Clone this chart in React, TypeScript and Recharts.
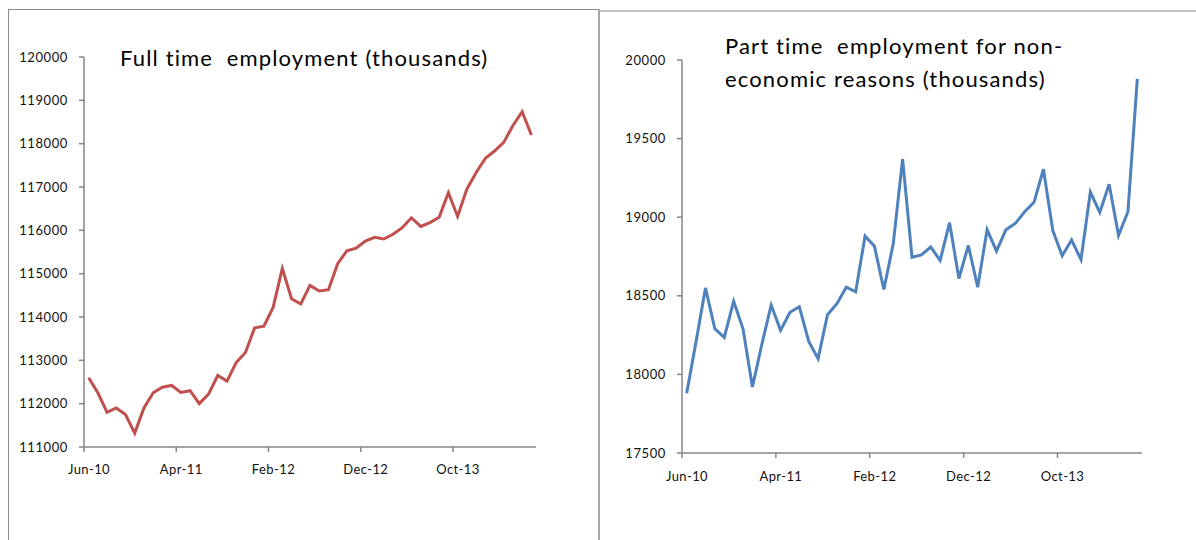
import { LineChart, Line, XAxis, YAxis } from 'recharts'

const months = [
  'Jun-10', 'Jul-10', 'Aug-10', 'Sep-10', 'Oct-10', 'Nov-10', 'Dec-10',
  'Jan-11', 'Feb-11', 'Mar-11', 'Apr-11', 'May-11', 'Jun-11', 'Jul-11', 'Aug-11', 'Sep-11', 'Oct-11', 'Nov-11', 'Dec-11',
  'Jan-12', 'Feb-12', 'Mar-12', 'Apr-12', 'May-12', 'Jun-12', 'Jul-12', 'Aug-12', 'Sep-12', 'Oct-12', 'Nov-12', 'Dec-12',
  'Jan-13', 'Feb-13', 'Mar-13', 'Apr-13', 'May-13', 'Jun-13', 'Jul-13', 'Aug-13', 'Sep-13', 'Oct-13', 'Nov-13', 'Dec-13',
  'Jan-14', 'Feb-14', 'Mar-14', 'Apr-14', 'May-14', 'Jun-14',
]

const tickMonths = ['Jun-10', 'Apr-11', 'Feb-12', 'Dec-12', 'Oct-13']

const fullTime = [
  112600, 112250, 111800, 111900, 111750, 111320, 111900, 112250, 112380, 112420,
  112260, 112300, 112000, 112220, 112650, 112520, 112950, 113180, 113750, 113790,
  114220, 115120, 114420, 114300, 114730, 114600, 114630, 115230, 115530, 115590,
  115750, 115840, 115800, 115910, 116060, 116290, 116090, 116180, 116300, 116870,
  116320, 116950, 117330, 117660, 117830, 118030, 118420, 118740, 118200,
]

const partTime = [
  17880, 18210, 18550, 18290, 18235, 18465, 18290, 17920, 18190, 18440,
  18280, 18395, 18430, 18210, 18100, 18380, 18450, 18555, 18525, 18880,
  18815, 18540, 18830, 19370, 18745, 18760, 18810, 18725, 18965, 18610,
  18820, 18555, 18920, 18785, 18920, 18960, 19035, 19095, 19305, 18915,
  18755, 18855, 18730, 19160, 19030, 19210, 18885, 19035, 19880,
]

const fullTicks = [111000, 112000, 113000, 114000, 115000, 116000, 117000, 118000, 119000, 120000]
const partTicks = [17500, 18000, 18500, 19000, 19500, 20000]

// each month sits in the middle of its slot, like an Excel date axis
const fullData = months.map((m, i) => ({ month: m, x: i + 0.5, value: fullTime[i] }))
const partData = months.map((m, i) => ({ month: m, x: i + 0.5, value: partTime[i] }))
const xTicks = tickMonths.map((m) => months.indexOf(m))

const FONT = 'Lato, "Open Sans", sans-serif'
const AXIS = '#868686'

function MonthTick({ x, y, payload }: { x?: number; y?: number; payload?: { value: number } }) {
  return (
    <text
      x={(x ?? 0) + 5}
      y={y}
      dy="0.71em"
      textAnchor="middle"
      fontSize={13}
      fontFamily={FONT}
      fill="#111"
      letterSpacing={0.4}
    >
      {months[payload?.value ?? 0]}
    </text>
  )
}

interface PanelProps {
  data: { x: number; value: number }[]
  width: number
  top: number
  bottom: number
  axisLeft: number
  axisRight: number
  domain: [number, number]
  ticks: number[]
  color: string
  labelGap: number
}

function Panel({ data, width, top, bottom, axisLeft, axisRight, domain, ticks, color, labelGap }: PanelProps) {
  return (
    <LineChart
      width={width}
      height={540}
      data={data}
      margin={{ top, right: width - axisRight, bottom: 0, left: 0 }}
    >
      <XAxis
        type="number"
        dataKey="x"
        domain={[0, months.length]}
        ticks={xTicks}
        interval={0}
        height={540 - bottom}
        stroke={AXIS}
        strokeWidth={1.5}
        tickSize={5}
        tickMargin={labelGap}
        tick={<MonthTick />}
      />
      <YAxis
        domain={domain}
        ticks={ticks}
        interval={0}
        width={axisLeft}
        stroke={AXIS}
        strokeWidth={1.5}
        tickSize={5}
        tickMargin={11}
        tick={{ fontSize: 13, fontFamily: FONT, fill: '#111', letterSpacing: 0.6 }}
      />
      <Line
        type="linear"
        dataKey="value"
        stroke={color}
        strokeWidth={3}
        dot={false}
        isAnimationActive={false}
      />
    </LineChart>
  )
}

const titleStyle: React.CSSProperties = {
  position: 'absolute',
  fontFamily: FONT,
  fontSize: 22,
  color: '#000',
  whiteSpace: 'pre',
  lineHeight: '33px',
  letterSpacing: 1.15,
}

export default function App() {
  return (
    <div style={{ position: 'absolute', left: 0, top: 0, width: 1196, height: 540, background: '#fff', overflow: 'hidden' }}>
      {/* chart frames */}
      <div style={{ position: 'absolute', left: 8, top: 9, width: 590, height: 600, borderTop: '1px solid #8a8a8a', borderLeft: '1px solid #8a8a8a' }} />
      <div style={{ position: 'absolute', left: 598, top: 9, width: 2, height: 540, background: '#a6a6a6' }} />
      <div style={{ position: 'absolute', left: 600, top: 10, width: 596, height: 2, background: '#c4c4c4' }} />

      <div style={{ position: 'absolute', left: 0, top: 0 }}>
        <Panel
          data={fullData}
          width={600}
          top={57}
          bottom={447}
          axisLeft={84}
          axisRight={536}
          domain={[111000, 120000]}
          ticks={fullTicks}
          color="#C0504D"
          labelGap={13}
        />
      </div>
      <div style={{ position: 'absolute', left: 600, top: 0 }}>
        <Panel
          data={partData}
          width={596}
          top={60}
          bottom={453}
          axisLeft={82}
          axisRight={542}
          domain={[17500, 20000]}
          ticks={partTicks}
          color="#4F81BD"
          labelGap={14}
        />
      </div>

      <div style={{ ...titleStyle, left: 120, top: 41 }}>Full time  employment (thousands)</div>
      <div style={{ ...titleStyle, left: 725, top: 29 }}>
        {'Part time  employment for non-\neconomic reasons (thousands)'}
      </div>
    </div>
  )
}
